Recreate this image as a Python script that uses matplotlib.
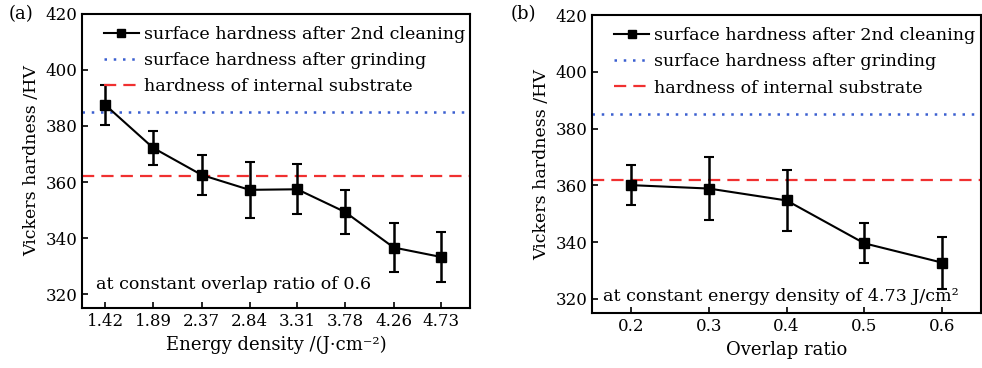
import matplotlib
matplotlib.use("Agg")
import matplotlib.pyplot as plt
from matplotlib.lines import Line2D

# energy-density series (overlap ratio fixed at 0.6)
energy = [1.42, 1.89, 2.37, 2.84, 3.31, 3.78, 4.26, 4.73]
hv_energy = [387.5, 372.2, 362.5, 357.2, 357.4, 349.3, 336.6, 333.2]
err_energy = [7.0, 6.0, 7.0, 10.0, 9.0, 8.0, 8.7, 9.0]

# overlap-ratio series (energy density fixed at 4.73 J/cm2)
overlap = [0.2, 0.3, 0.4, 0.5, 0.6]
hv_overlap = [360.1, 358.9, 354.7, 339.6, 332.8]
err_overlap = [7.0, 11.0, 10.6, 7.0, 9.2]

hv_grinding = 385
hv_substrate = 362

yticks = [320, 340, 360, 380, 400, 420]

BLUE = "#3a5fd0"
RED = "#f03030"
DOTS = (0, (1, 2.7))
DASHES = (0, (5.5, 3.2))

plt.rcParams.update({
    "font.family": ["DejaVu Serif"],
    "font.size": 12,
    "xtick.direction": "in",
    "ytick.direction": "in",
    "axes.linewidth": 1.5,
})

fig = plt.figure(figsize=(9.82, 3.68), dpi=100)
ax1 = fig.add_axes([0.0835, 0.163, 0.395, 0.799])
ax2 = fig.add_axes([0.603, 0.149, 0.396, 0.810])


def draw(ax, x, y, err, xlim):
    ax.errorbar(x, y, yerr=err, color="black", marker="s", markersize=7,
                linewidth=1.5, elinewidth=1.8, capsize=3.5, capthick=1.5,
                zorder=3)
    ax.axhline(hv_grinding, color=BLUE, linestyle=DOTS, linewidth=1.8)
    ax.axhline(hv_substrate, color=RED, linestyle=DASHES, linewidth=1.6)
    ax.set_xlim(*xlim)
    ax.set_ylim(315, 420)
    ax.set_yticks(yticks)
    ax.set_ylabel("Vickers hardness /HV", fontsize=12.5)
    ax.tick_params(labelsize=12, width=1.2, length=4)

    handles = [
        Line2D([], [], color="black", marker="s", markersize=6, linewidth=1.5),
        Line2D([], [], color=BLUE, linestyle=DOTS, linewidth=1.8),
        Line2D([], [], color=RED, linestyle=DASHES, linewidth=1.6),
    ]
    labels = [
        "surface hardness after 2nd cleaning",
        "surface hardness after grinding",
        "hardness of internal substrate",
    ]
    ax.legend(handles, labels, loc="upper left", frameon=False, fontsize=12.6,
              handlelength=2.0, handletextpad=0.3, labelspacing=0.52,
              borderaxespad=0.3, bbox_to_anchor=(0.025, 1.0))


draw(ax1, energy, hv_energy, err_energy, (1.19, 5.01))
ax1.set_xticks(energy)
ax1.set_xticklabels([f"{v:.2f}" for v in energy])
ax1.set_xlabel("Energy density /(J\u00b7cm\u207b\u00b2)", fontsize=13)
ax1.text(0.035, 0.08, "at constant overlap ratio of 0.6", transform=ax1.transAxes,
         fontsize=12.6, va="center")
fig.text(0.009, 0.962, "(a)", fontsize=13, va="center")

draw(ax2, overlap, hv_overlap, err_overlap, (0.15, 0.65))
ax2.set_xticks(overlap)
ax2.set_xticklabels([f"{v:.1f}" for v in overlap])
ax2.set_xlabel("Overlap ratio", fontsize=13)
ax2.text(0.028, 0.055, "at constant energy density of 4.73 J/cm\u00b2",
         transform=ax2.transAxes, fontsize=12.6, va="center")
fig.text(0.52, 0.962, "(b)", fontsize=13, va="center")

fig.savefig("out.png", dpi=100)
